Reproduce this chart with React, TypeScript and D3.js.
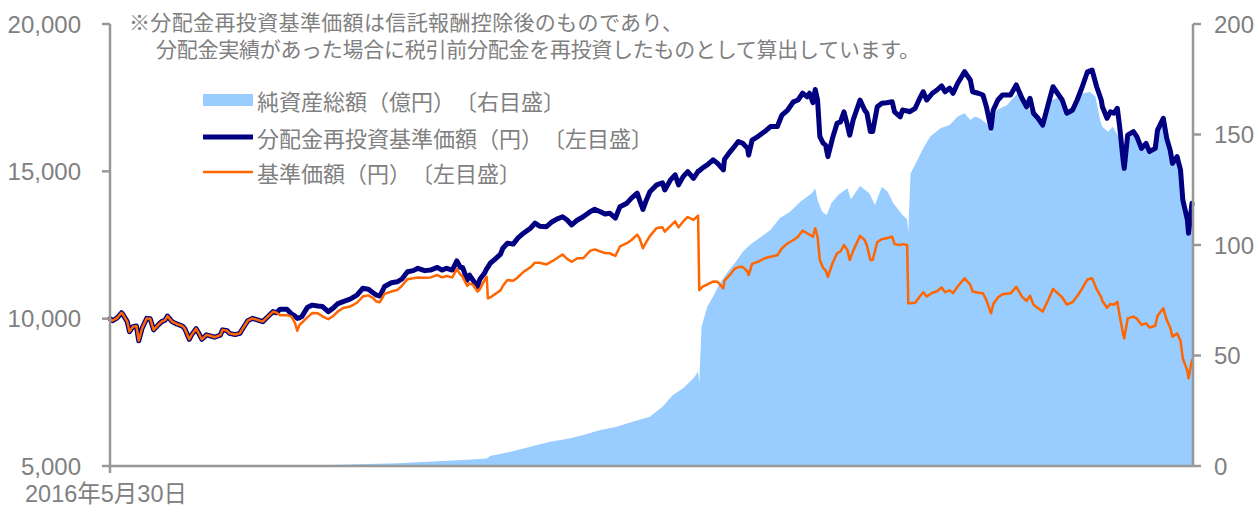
import React from "react";
import * as d3 from "d3";

// ---- data ----
const lineDates: string[] = [
  "2016-05-30","2016-06-01","2016-06-05","2016-06-09","2016-06-10","2016-06-14","2016-06-16","2016-06-19","2016-06-22","2016-06-24",
  "2016-06-27","2016-07-01","2016-07-04","2016-07-07","2016-07-11","2016-07-14","2016-07-17","2016-07-19","2016-07-23","2016-07-27",
  "2016-08-01","2016-08-03","2016-08-07","2016-08-09","2016-08-13","2016-08-15","2016-08-18","2016-08-22","2016-08-26","2016-08-29",
  "2016-09-03","2016-09-05","2016-09-09","2016-09-11","2016-09-16","2016-09-20","2016-09-24","2016-09-27","2016-10-01","2016-10-06",
  "2016-10-10","2016-10-15","2016-10-19","2016-10-22","2016-10-25","2016-10-31","2016-11-04","2016-11-07","2016-11-09","2016-11-11",
  "2016-11-13","2016-11-18","2016-11-22","2016-11-27","2016-12-01","2016-12-06","2016-12-10","2016-12-14","2016-12-19","2016-12-25",
  "2016-12-31","2017-01-05","2017-01-10","2017-01-14","2017-01-17","2017-01-20","2017-01-24","2017-01-30","2017-02-04","2017-02-08",
  "2017-02-13","2017-02-18","2017-02-22","2017-02-28","2017-03-05","2017-03-11","2017-03-15","2017-03-19","2017-03-24","2017-03-28",
  "2017-03-31","2017-04-02","2017-04-06","2017-04-08","2017-04-11","2017-04-15","2017-04-17","2017-04-21","2017-04-23","2017-04-24",
  "2017-04-26","2017-04-30","2017-05-05","2017-05-07","2017-05-11","2017-05-16","2017-05-20","2017-05-25","2017-05-31","2017-06-04",
  "2017-06-08","2017-06-14","2017-06-19","2017-06-23","2017-06-28","2017-07-02","2017-07-06","2017-07-11","2017-07-16","2017-07-22",
  "2017-07-26","2017-07-31","2017-08-04","2017-08-08","2017-08-13","2017-08-17","2017-08-23","2017-08-27","2017-09-01","2017-09-03",
  "2017-09-06","2017-09-09","2017-09-12","2017-09-18","2017-09-23","2017-09-25","2017-09-30","2017-10-04","2017-10-07","2017-10-11",
  "2017-10-15","2017-10-20","2017-10-24","2017-10-25","2017-10-28","2017-11-01","2017-11-06","2017-11-10","2017-11-15","2017-11-16",
  "2017-11-21","2017-11-25","2017-11-28","2017-12-02","2017-12-06","2017-12-07","2017-12-10","2017-12-15","2017-12-21","2017-12-26",
  "2018-01-01","2018-01-05","2018-01-10","2018-01-15","2018-01-19","2018-01-23","2018-01-27","2018-01-29","2018-02-01","2018-02-03",
  "2018-02-05","2018-02-07","2018-02-10","2018-02-12","2018-02-14","2018-02-18","2018-02-22","2018-02-25","2018-02-28","2018-03-03",
  "2018-03-05","2018-03-08","2018-03-14","2018-03-18","2018-03-20","2018-03-23","2018-03-25","2018-03-29","2018-04-02","2018-04-06",
  "2018-04-11","2018-04-13","2018-04-18","2018-04-20","2018-04-24","2018-04-25","2018-04-26","2018-05-01","2018-05-05","2018-05-08",
  "2018-05-11","2018-05-16","2018-05-20","2018-05-24","2018-05-27","2018-05-31","2018-06-03","2018-06-07","2018-06-13","2018-06-18",
  "2018-06-20","2018-06-25","2018-06-29","2018-07-02","2018-07-06","2018-07-08","2018-07-12","2018-07-16","2018-07-23","2018-07-28",
  "2018-08-02","2018-08-06","2018-08-09","2018-08-12","2018-08-16","2018-08-20","2018-08-25","2018-08-29","2018-09-01","2018-09-06",
  "2018-09-10","2018-09-15","2018-09-19","2018-09-23","2018-09-28","2018-10-02","2018-10-06","2018-10-10","2018-10-11","2018-10-15",
  "2018-10-18","2018-10-21","2018-10-24","2018-10-26","2018-10-29","2018-10-30","2018-11-02","2018-11-07","2018-11-10","2018-11-14",
  "2018-11-18","2018-11-21","2018-11-26","2018-11-28","2018-12-03","2018-12-06","2018-12-09","2018-12-11","2018-12-15","2018-12-18",
  "2018-12-20","2018-12-24","2018-12-25","2018-12-28",
];

// 分配金再投資基準価額（円）
const reinvestedNav: number[] = [
  10000,9930,10020,10200,10160,9900,9560,9730,9750,9250,
  9680,10010,10000,9620,9790,9900,9950,10090,9900,9820,
  9750,9670,9300,9450,9660,9520,9300,9450,9410,9370,
  9440,9620,9590,9500,9460,9500,9750,9930,10010,9950,
  9900,10090,10240,10200,10320,10320,10160,10090,10010,10030,
  10070,10390,10460,10430,10410,10240,10350,10500,10580,10660,
  10800,11030,11000,10880,10800,10770,11090,11220,11250,11340,
  11590,11630,11710,11630,11650,11740,11650,11710,11650,11960,
  11740,11740,11310,11480,11310,11090,11340,11540,11700,11750,
  11880,12010,12190,12390,12560,12530,12730,12900,13070,13240,
  13140,13120,13290,13380,13460,13350,13180,13350,13460,13630,
  13710,13630,13550,13580,13410,13800,13920,14090,14260,14030,
  13710,14030,14310,14540,14610,14370,14710,14880,14540,14820,
  14990,14760,15000,15020,15120,15220,15390,15270,15050,15410,
  15670,15860,16010,15950,15780,15550,16060,16180,16350,16520,
  16520,16910,17080,17360,17420,17650,17530,17650,17330,17780,
  17420,16180,15950,15890,15500,16120,16630,16680,17020,16570,
  16230,16740,17420,17080,16970,16350,16350,17190,17310,17330,
  17360,17020,16850,17080,17050,17050,17020,17140,17480,17700,
  17420,17650,17760,17900,17700,17820,17650,17990,18380,18100,
  17700,17650,17590,17190,16460,17080,17420,17590,17590,17930,
  17480,17190,17480,16970,16800,16570,17310,17870,17700,17420,
  16970,17080,17420,17820,18380,18440,17870,17420,17190,16800,
  17020,16970,17140,16520,15390,15100,16230,16350,16180,15780,
  15950,15670,15780,16400,16800,16120,15720,15270,15500,15050,
  14030,13350,12900,13920,
];

// 基準価額（円）
const nav: number[] = [
  10000,9930,10020,10200,10160,9900,9560,9730,9750,9250,
  9680,10010,10000,9620,9790,9900,9950,10090,9900,9820,
  9750,9670,9300,9450,9660,9520,9300,9450,9410,9370,
  9440,9620,9590,9500,9460,9500,9750,9930,10010,9950,
  9900,10090,10240,10200,10120,10120,10070,9860,9590,9790,
  9860,10050,10190,10180,10080,9980,10080,10230,10360,10410,
  10540,10750,10790,10700,10580,10560,10840,10920,10970,11110,
  11340,11370,11400,11390,11400,11480,11400,11450,11400,11680,
  11500,11420,11110,11200,11150,10920,11000,11300,11420,10690,
  10720,10830,10960,11110,11310,11290,11400,11590,11740,11900,
  11900,11840,11950,12050,12180,12030,11930,12050,12050,12300,
  12350,12280,12230,12220,12130,12450,12560,12670,12850,12730,
  12390,12610,12800,13080,13100,12950,13150,13300,13100,13300,
  13450,13350,13500,10970,11090,11160,11260,11250,11030,11290,
  11500,11700,11750,11750,11600,11480,11860,11930,12050,12100,
  12150,12390,12560,12670,12780,12990,12900,12850,12780,13070,
  12780,11990,11710,11650,11420,11880,12220,12280,12500,12330,
  11990,12300,12810,12670,12480,11990,11990,12600,12700,12730,
  12780,12530,12500,12530,12500,10520,10520,10540,10750,10900,
  10750,10880,10930,11060,10900,10960,10870,11090,11370,11150,
  10920,10880,10860,10630,10180,10500,10720,10830,10860,11080,
  10750,10600,10780,10470,10350,10240,10650,11010,10900,10720,
  10480,10560,10760,11000,11330,11370,11000,10720,10600,10370,
  10500,10470,10570,10100,9490,9330,10010,10070,10000,9790,
  9840,9700,9760,10100,10350,9950,9700,9390,9500,9250,
  8650,8230,7980,8600,
];

// 純資産総額（億円）
const aumDates: string[] = [
  "2016-05-30","2016-11-11","2016-12-08","2017-02-04","2017-04-02","2017-04-23","2017-04-26","2017-05-13","2017-05-31","2017-06-17",
  "2017-07-04","2017-07-16","2017-07-31","2017-08-14","2017-08-28","2017-09-12","2017-09-23","2017-10-02","2017-10-11","2017-10-20",
  "2017-10-24","2017-10-25","2017-10-27","2017-11-01","2017-11-06","2017-11-12","2017-11-18","2017-11-27","2017-12-02","2017-12-08",
  "2017-12-14","2017-12-20","2017-12-26","2018-01-03","2018-01-12","2018-01-21","2018-01-31","2018-02-03","2018-02-05","2018-02-09",
  "2018-02-13","2018-02-17","2018-02-23","2018-03-03","2018-03-06","2018-03-14","2018-03-22","2018-03-27","2018-04-02","2018-04-07",
  "2018-04-12","2018-04-20","2018-04-24","2018-04-25","2018-04-27","2018-05-03","2018-05-08","2018-05-14","2018-05-23","2018-05-31",
  "2018-06-07","2018-06-13","2018-06-18","2018-06-22","2018-06-26","2018-07-02","2018-07-06","2018-07-11","2018-07-20","2018-07-29",
  "2018-08-06","2018-08-15","2018-08-20","2018-08-28","2018-09-04","2018-09-10","2018-09-19","2018-09-24","2018-09-30","2018-10-05",
  "2018-10-09","2018-10-11","2018-10-16","2018-10-20","2018-10-25","2018-10-28","2018-10-31","2018-11-02","2018-11-07","2018-11-10",
  "2018-11-14","2018-11-18","2018-11-21","2018-11-26","2018-11-28","2018-12-03","2018-12-06","2018-12-09","2018-12-11","2018-12-15",
  "2018-12-18","2018-12-20","2018-12-24","2018-12-25","2018-12-28",
];
const aumValues: number[] = [
  0,0.2,0.5,1.2,2.7,3.4,4.5,6.3,8.7,11.0,
  12.5,14.0,16.3,17.8,20.0,22.3,26.8,32.1,35.2,39.7,
  42.7,37.4,63.0,72.1,76.6,82.7,87.2,93.2,97.0,100.0,
  102.3,104.5,106.8,112.1,115.1,119.6,123.4,125.7,120.4,115.1,
  113.6,118.9,122.6,125.7,120.7,126.7,123.4,118.1,126.4,124.1,
  118.9,113.6,111.6,105.3,132.4,138.5,143.8,149.0,152.8,154.3,
  158.1,159.6,156.6,158.1,157.3,155.1,150.7,161.1,163.3,168.6,
  162.6,157.3,154.3,165.6,167.1,159.6,164.8,168.6,169.4,167.1,
  156.6,153.5,151.3,153.5,149.0,140.0,135.4,148.4,149.8,147.5,
  142.5,144.8,140.7,142.5,150.7,156.1,147.1,141.6,135.7,138.5,
  132.6,119.0,110.0,104.1,117.6,
];

const leftTicks: number[] = [5000, 10000, 15000, 20000];
const rightTicks: number[] = [0, 50, 100, 150, 200];
const startLabel = "2016年5月30日";
const noteLines: string[] = [
  "※分配金再投資基準価額は信託報酬控除後のものであり、",
  "分配金実績があった場合に税引前分配金を再投資したものとして算出しています。",
];
const legendLabels: string[] = [
  "純資産総額（億円）〔右目盛〕",
  "分配金再投資基準価額（円）〔左目盛〕",
  "基準価額（円）〔左目盛〕",
];

const AREA_COLOR = "#99ccff";
const NAVY = "#000080";
const ORANGE = "#ff6600";
const AXIS = "#989898";
const TEXT = "#808080";
const LATIN = "'Liberation Sans', Arial, 'Noto Sans CJK JP', sans-serif";
const CJK = "'Noto Sans CJK JP', 'Liberation Sans', sans-serif";
const cjkStyle: React.CSSProperties = {
  fontFeatureSettings: '"chws" 0, "halt" 0, "palt" 0',
  // @ts-ignore
  textSpacingTrim: "space-all",
};

export default function App() {
  const W = 1259;
  const H = 508;
  const left = 110;
  const right = 1193;
  const top = 24;
  const bottom = 466;
  const parse = d3.timeParse("%Y-%m-%d");

  const x = d3
    .scaleTime()
    .domain([parse(lineDates[0]) as Date, parse(lineDates[lineDates.length - 1]) as Date])
    .range([left, right - 1]);
  const yL = d3.scaleLinear().domain([5000, 20000]).range([bottom, top]);
  const yR = d3.scaleLinear().domain([0, 200]).range([bottom, top]);

  const lineRows = lineDates.map((d, i) => ({ date: parse(d) as Date, re: reinvestedNav[i], nav: nav[i] }));
  const aumRows = aumDates.map((d, i) => ({ date: parse(d) as Date, v: aumValues[i] }));

  const areaPath = d3
    .area<{ date: Date; v: number }>()
    .x((d) => x(d.date))
    .y0(yR(0))
    .y1((d) => yR(d.v))(aumRows) as string;
  const rePath = d3
    .line<{ date: Date; re: number; nav: number }>()
    .x((d) => x(d.date))
    .y((d) => yL(d.re))(lineRows) as string;
  const navPath = d3
    .line<{ date: Date; re: number; nav: number }>()
    .x((d) => x(d.date))
    .y((d) => yL(d.nav))(lineRows) as string;

  const legendY = [100, 137, 172];
  const legendFont = 22;

  return (
    <svg
      width={W}
      height={H}
      style={{ position: "absolute", left: 0, top: 0, background: "#fff" }}
    >
      {/* area */}
      <path d={areaPath} fill={AREA_COLOR} stroke="none" />
      {/* lines */}
      <path d={rePath} fill="none" stroke={NAVY} strokeWidth={5} strokeLinejoin="round" strokeLinecap="round" />
      <path d={navPath} fill="none" stroke={ORANGE} strokeWidth={2.5} strokeLinejoin="round" strokeLinecap="round" />

      {/* left axis */}
      <line x1={left} x2={left} y1={top} y2={bottom} stroke={AXIS} strokeWidth={2.5} />
      {leftTicks.map((t) => (
        <g key={"l" + t}>
          <line x1={left - 8} x2={left} y1={yL(t)} y2={yL(t)} stroke={AXIS} strokeWidth={2.5} />
          <text
            x={81}
            y={yL(t)}
            textAnchor="end"
            dominantBaseline="central"
            fontFamily={LATIN}
            fontSize={24}
            fill={TEXT}
          >
            {d3.format(",")(t)}
          </text>
        </g>
      ))}

      {/* right axis */}
      <line x1={right} x2={right} y1={top} y2={bottom} stroke={AXIS} strokeWidth={2.5} />
      {rightTicks.map((t) => (
        <g key={"r" + t}>
          <line x1={right} x2={right + 8} y1={yR(t)} y2={yR(t)} stroke={AXIS} strokeWidth={2.5} />
          <text
            x={1214}
            y={yR(t)}
            textAnchor="start"
            dominantBaseline="central"
            fontFamily={LATIN}
            fontSize={24}
            fill={TEXT}
          >
            {t}
          </text>
        </g>
      ))}

      {/* bottom axis */}
      <line x1={left} x2={right} y1={bottom} y2={bottom} stroke={AXIS} strokeWidth={2.5} />
      <line x1={left} x2={left} y1={bottom} y2={bottom + 7} stroke={AXIS} strokeWidth={2.5} />
      <text x={25} y={494} dominantBaseline="central" fontFamily={LATIN} fontSize={23.5} fill={TEXT}>
        {startLabel}
      </text>

      {/* note */}
      <text
        x={129}
        y={21}
        dominantBaseline="central"
        fontFamily={CJK}
        fontSize={21}
        fill={TEXT}
        style={cjkStyle}
        textLength={554}
        lengthAdjust="spacing"
      >
        {noteLines[0]}
      </text>
      <text
        x={156}
        y={48}
        dominantBaseline="central"
        fontFamily={CJK}
        fontSize={21}
        fill={TEXT}
        style={cjkStyle}
        textLength={764}
        lengthAdjust="spacing"
      >
        {noteLines[1]}
      </text>

      {/* legend */}
      <rect x={203} y={legendY[0] - 6} width={50} height={12} fill={AREA_COLOR} />
      <line x1={203} x2={253} y1={legendY[1]} y2={legendY[1]} stroke={NAVY} strokeWidth={5} />
      <line x1={203} x2={253} y1={legendY[2]} y2={legendY[2]} stroke={ORANGE} strokeWidth={2.5} />
      {legendLabels.map((l, i) => (
        <text
          key={l}
          x={257}
          y={legendY[i]}
          dominantBaseline="central"
          fontFamily={CJK}
          fontSize={legendFont}
          fill={TEXT}
          style={cjkStyle}
          textLength={l.length * legendFont}
          lengthAdjust="spacing"
        >
          {l}
        </text>
      ))}
    </svg>
  );
}
